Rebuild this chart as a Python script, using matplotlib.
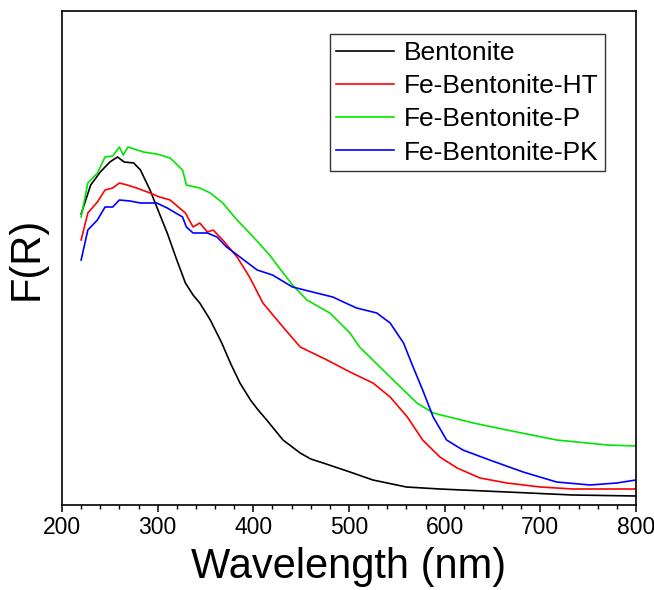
import numpy as np
import matplotlib
matplotlib.use("Agg")
import matplotlib.pyplot as plt
from matplotlib.ticker import MultipleLocator

plt.rcParams['font.family'] = ['Liberation Sans', 'DejaVu Sans']

# values (F(R), arbitrary units)
bent_wl = [220, 230, 240, 250, 258, 265, 275, 282, 292, 302, 310, 320, 329, 337, 344, 355, 367, 376,
           386, 397, 405, 414, 431, 449, 460, 473, 501, 525, 560, 595, 665, 734, 800]
bent_fr = [2.91, 3.20, 3.33, 3.43, 3.48, 3.43, 3.42, 3.35, 3.15, 2.91, 2.72, 2.45, 2.22, 2.10, 2.02,
           1.85, 1.62, 1.42, 1.22, 1.05, 0.95, 0.85, 0.65, 0.52, 0.46, 0.42, 0.33, 0.25, 0.18, 0.16,
           0.13, 0.10, 0.09]

ht_wl = [220, 227, 237, 245, 253, 260, 268, 278, 292, 302, 313, 329, 337, 344, 352, 358, 368, 383,
         396, 410, 431, 449, 477, 501, 525, 543, 561, 577, 595, 613, 637, 665, 700, 734, 800]
ht_fr = [2.65, 2.92, 3.03, 3.15, 3.17, 3.22, 3.20, 3.17, 3.12, 3.08, 3.05, 2.92, 2.78, 2.82, 2.73,
         2.75, 2.65, 2.48, 2.28, 2.02, 1.78, 1.58, 1.45, 1.33, 1.22, 1.08, 0.88, 0.65, 0.48, 0.37,
         0.27, 0.22, 0.18, 0.16, 0.16]

p_wl = [220, 227, 237, 245, 253, 260, 264, 269, 285, 299, 313, 326, 330, 344, 355, 368, 383, 400,
        417, 428, 441, 456, 480, 501, 511, 543, 571, 588, 630, 665, 717, 770, 800]
p_fr = [2.88, 3.22, 3.32, 3.48, 3.49, 3.58, 3.50, 3.58, 3.53, 3.51, 3.47, 3.35, 3.20, 3.17, 3.12,
        3.02, 2.85, 2.68, 2.50, 2.36, 2.20, 2.05, 1.92, 1.72, 1.58, 1.28, 1.02, 0.92, 0.82, 0.75,
        0.65, 0.60, 0.59]

pk_wl = [220, 227, 237, 245, 253, 260, 271, 282, 299, 310, 326, 330, 337, 352, 362, 372, 386, 404,
         420, 441, 466, 483, 501, 508, 529, 543, 557, 567, 577, 588, 602, 619, 647, 682, 717, 752,
         780, 800]
pk_fr = [2.45, 2.75, 2.85, 2.98, 2.98, 3.05, 3.04, 3.02, 3.02, 2.97, 2.88, 2.78, 2.72, 2.72, 2.68,
         2.58, 2.48, 2.35, 2.30, 2.18, 2.12, 2.08, 2.00, 1.97, 1.92, 1.82, 1.62, 1.38, 1.15, 0.88,
         0.65, 0.55, 0.45, 0.33, 0.23, 0.20, 0.22, 0.25]

labels = ['Bentonite', 'Fe-Bentonite-HT', 'Fe-Bentonite-P', 'Fe-Bentonite-PK']
colors = ['#000000', '#ff0000', '#00e600', '#0000ff']

fig = plt.figure(figsize=(6.54, 5.90), dpi=100)
ax = fig.add_axes([62 / 654, 85 / 590, 574 / 654, 494 / 590])

series = [(bent_wl, bent_fr), (ht_wl, ht_fr), (p_wl, p_fr), (pk_wl, pk_fr)]
for (wl, fr), lab, col in zip(series, labels, colors):
    ax.plot(wl, fr, color=col, lw=1.2, label=lab)

ax.set_xlim(200, 800)
ax.set_ylim(0, 4.94)
ax.xaxis.set_major_locator(MultipleLocator(100))
ax.xaxis.set_minor_locator(MultipleLocator(20))
ax.tick_params(axis='x', which='major', direction='out', length=5, width=1.1, labelsize=16.5, pad=3)
ax.tick_params(axis='x', which='minor', direction='out', length=3, width=1.0)
ax.set_yticks([])
for s in ax.spines.values():
    s.set_linewidth(1.2)

ax.set_xlabel('Wavelength (nm)', fontsize=30, labelpad=6)
ax.set_ylabel('F(R)', fontsize=30, labelpad=11)

leg = ax.legend(loc='upper right', bbox_to_anchor=(0.946, 0.953), borderaxespad=0,
                fontsize=19, frameon=True, fancybox=False, edgecolor='black',
                handlelength=2.2, labelspacing=0.35, borderpad=0.25, handletextpad=0.35)
leg.get_frame().set_linewidth(1.0)

fig.savefig('out.png', dpi=100)
